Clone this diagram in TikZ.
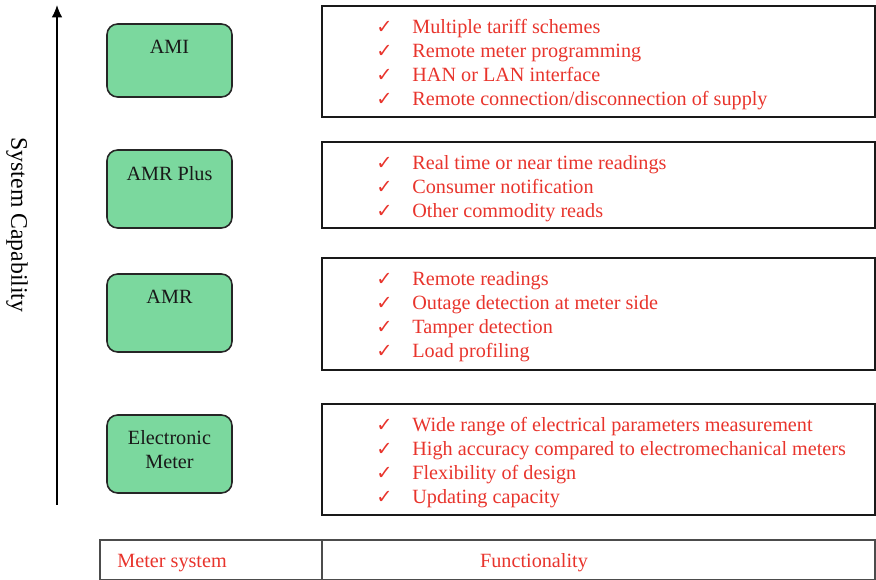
\documentclass[tikz,border=0pt]{standalone}
\usepackage{fontspec}
\setmainfont{Liberation Serif}
\newfontfamily\symfont{DejaVu Sans}
\usepackage{tikz}
\usetikzlibrary{arrows.meta, positioning}
\definecolor{mgreen}{RGB}{123,216,158}
\definecolor{mred}{RGB}{232,52,44}
\newcommand{\ckitem}[1]{\makebox[0.72cm][l]{{\symfont\fontsize{11}{11}\selectfont ✓}}#1}

\begin{document}
\begin{tikzpicture}[
  x=0.02cm, y=-0.02cm,
  font=\fontsize{11.5}{13.66}\selectfont,
  sysbox/.style={rectangle, rounded corners=6pt, draw=black!85, line width=0.9pt, fill=mgreen, minimum width=2.5cm},
  sysname/.style={align=center, text=black!90, inner sep=0pt},
  funbox/.style={rectangle, draw=black!90, line width=1.1pt, minimum width=11.06cm},
  funlist/.style={anchor=west, align=left, text=mred, inner sep=0pt},
  cell/.style={rectangle, draw=black!70, line width=0.9pt, minimum height=0.8cm},
  arr/.style={-{Latex[length=7pt, width=6pt]}, line width=0.8pt, black}
]
  \useasboundingbox (0,0) rectangle (876,580);
  % capability axis
  \coordinate (axbot) at (57,505);
  \coordinate (axtop) at (57,5);
  \draw[arr] (axbot)--(axtop);
  \node[rotate=-90, font=\fontsize{13.5}{15}\selectfont] (cap) at (17,225) {System Capability};
  % meter systems
  \node[sysbox, minimum height=1.46cm] (ami) at (169.5,60.5) {};
  \node[sysname] (amit) at (169.5,47) {AMI};
  \node[sysbox, minimum height=1.56cm] (amrp) at (169.5,189) {};
  \node[sysname] (amrpt) at (169.5,174) {AMR Plus};
  \node[sysbox, minimum height=1.56cm] (amr) at (169.5,313) {};
  \node[sysname] (amrt) at (169.5,297) {AMR};
  \node[sysbox, minimum height=1.56cm] (em) at (169.5,454) {};
  \node[sysname] (emt) at (169.5,450) {Electronic\\Meter};
  % functionality
  \node[funbox, minimum height=2.22cm] (fami) at (598.5,61.5) {};
  \node[funlist] (lami) at (376,65) {\ckitem{Multiple tariff schemes}\\\ckitem{Remote meter programming}\\\ckitem{HAN or LAN interface}\\\ckitem{Remote connection/disconnection of supply}};
  \node[funbox, minimum height=1.72cm] (famrp) at (598.5,185) {};
  \node[funlist] (lamrp) at (376,189) {\ckitem{Real time or near time readings}\\\ckitem{Consumer notification}\\\ckitem{Other commodity reads}};
  \node[funbox, minimum height=2.24cm] (famr) at (598.5,314) {};
  \node[funlist] (lamr) at (376,317) {\ckitem{Remote readings}\\\ckitem{Outage detection at meter side}\\\ckitem{Tamper detection}\\\ckitem{Load profiling}};
  \node[funbox, minimum height=2.22cm] (fem) at (598.5,459.5) {};
  \node[funlist] (lem) at (376,463) {\ckitem{Wide range of electrical parameters measurement}\\\ckitem{High accuracy compared to electromechanical meters}\\\ckitem{Flexibility of design}\\\ckitem{Updating capacity}};
  % header row
  \node[cell, minimum width=4.44cm] (hsys) at (211,560) {};
  \node[cell, minimum width=11.06cm] (hfun) at (598.5,560) {};
  \node[text=mred, anchor=west, inner sep=0pt] (hsyst) at (117,563) {Meter system};
  \node[text=mred] (hfunt) at (534,563) {Functionality};
\end{tikzpicture}
\end{document}
